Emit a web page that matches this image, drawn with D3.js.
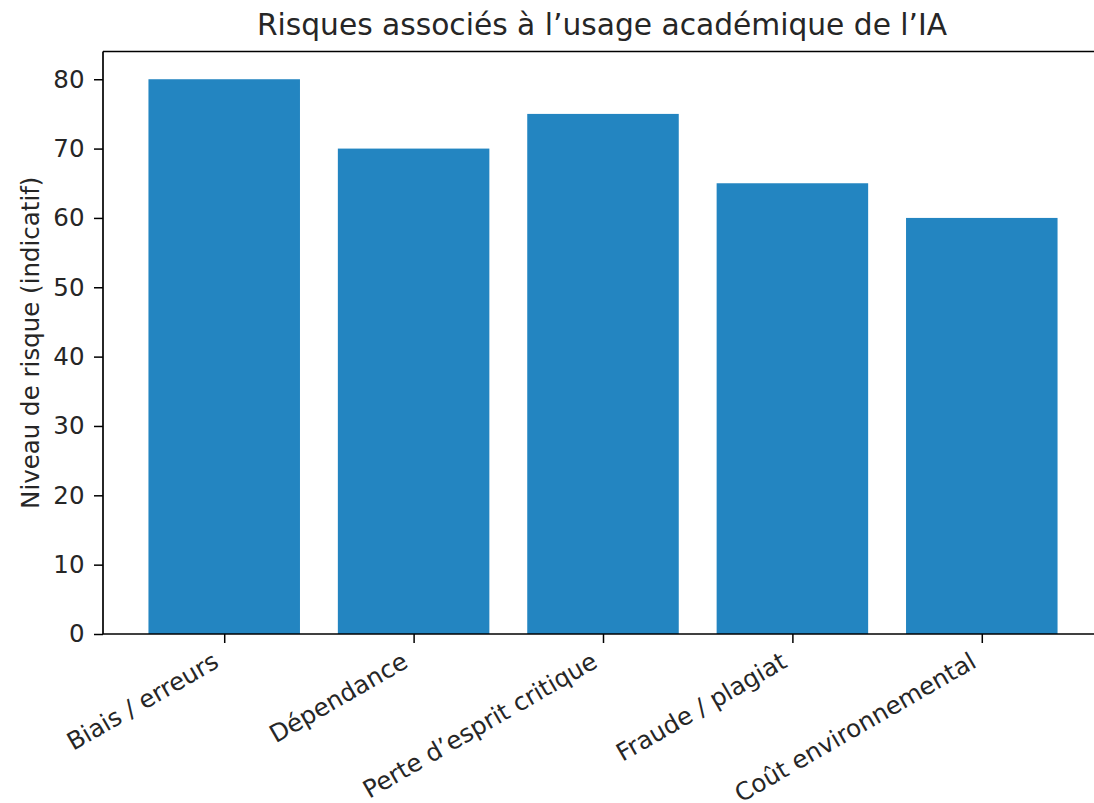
<!DOCTYPE html>
<html><head><meta charset="utf-8">
<script src="https://cdn.jsdelivr.net/npm/d3@7"></script>
<style>
html,body{margin:0;padding:0;background:#fff;overflow:hidden;}
svg text{font-family:"DejaVu Sans",sans-serif;fill:#262626;}
</style></head>
<body>
<svg id="chart" width="1094" height="803"></svg>
<script>
const categories = ["Biais / erreurs", "Dépendance", "Perte d’esprit critique", "Fraude / plagiat", "Coût environnemental"];
const values = [80, 70, 75, 65, 60];
const yTicks = [0, 10, 20, 30, 40, 50, 60, 70, 80];
const title = "Risques associés à l’usage académique de l’IA";
const yLabel = "Niveau de risque (indicatif)";

(function () {
const svg = d3.select("#chart");
const pLeft = 103, pRight = 1103, pTop = 51.5, pBottom = 634;
const fs = 24.5;
const tickLen = 9, tickPad = 9.5;

const n = categories.length;
const x = d3.scaleLinear().domain([-0.64, n - 1 + 0.64]).range([pLeft, pRight]);
const barW = 0.8;
const y = d3.scaleLinear().domain([0, 84]).range([pBottom, pTop]);

// bars
svg.append("g").selectAll("rect").data(values).join("rect")
  .attr("x", (d, i) => x(i - barW / 2))
  .attr("width", (d, i) => x(i + barW / 2) - x(i - barW / 2))
  .attr("y", d => y(d))
  .attr("height", d => y(0) - y(d))
  .attr("fill", "#2385c1");

// spines
const spine = svg.append("g").attr("stroke", "#000").attr("stroke-width", 1.7).attr("fill", "none");
spine.append("line").attr("x1", pLeft).attr("x2", pLeft).attr("y1", pTop).attr("y2", pBottom);
spine.append("line").attr("x1", pLeft).attr("x2", pRight).attr("y1", pBottom).attr("y2", pBottom);
spine.append("line").attr("x1", pLeft).attr("x2", pRight).attr("y1", pTop).attr("y2", pTop);
spine.append("line").attr("x1", pRight).attr("x2", pRight).attr("y1", pTop).attr("y2", pBottom);

// y axis
const yAxis = d3.axisLeft(y).tickValues(yTicks).tickSize(tickLen).tickPadding(tickPad);
const yg = svg.append("g").attr("transform", `translate(${pLeft},0)`).call(yAxis);
yg.select(".domain").remove();
yg.selectAll(".tick line").attr("stroke", "#000").attr("stroke-width", 1.5);
yg.selectAll(".tick text").style("font-size", fs + "px").attr("fill", "#262626")
  .attr("font-family", "DejaVu Sans");

// x axis
const xAxis = d3.axisBottom(x).tickValues(d3.range(n)).tickSize(tickLen).tickFormat("");
const xg = svg.append("g").attr("transform", `translate(0,${pBottom})`).call(xAxis);
xg.select(".domain").remove();
xg.selectAll(".tick line").attr("stroke", "#000").attr("stroke-width", 1.5);

// rotated x labels (ha=right, va=top on rotated bbox)
const asc = 0.93 * fs, desc = 0.24 * fs;
const labTop = pBottom + tickLen + 3.5;
svg.append("g").selectAll("text").data(categories).join("text")
  .attr("transform", (d, i) => `translate(${x(i) - 0.5 * desc - 1},${labTop + 0.866 * asc}) rotate(-30)`)
  .attr("text-anchor", "end")
  .style("font-size", fs + "px")
  .text(d => d);

// y label
svg.append("text")
  .attr("transform", `translate(39,${(pTop + pBottom) / 2}) rotate(-90)`)
  .attr("text-anchor", "middle")
  .style("font-size", fs + "px")
  .text(yLabel);

// title
svg.append("text")
  .attr("x", (pLeft + pRight) / 2 - 1)
  .attr("y", 35)
  .attr("text-anchor", "middle")
  .style("font-size", "29.7px")
  .text(title);
})();
</script>
</body></html>
